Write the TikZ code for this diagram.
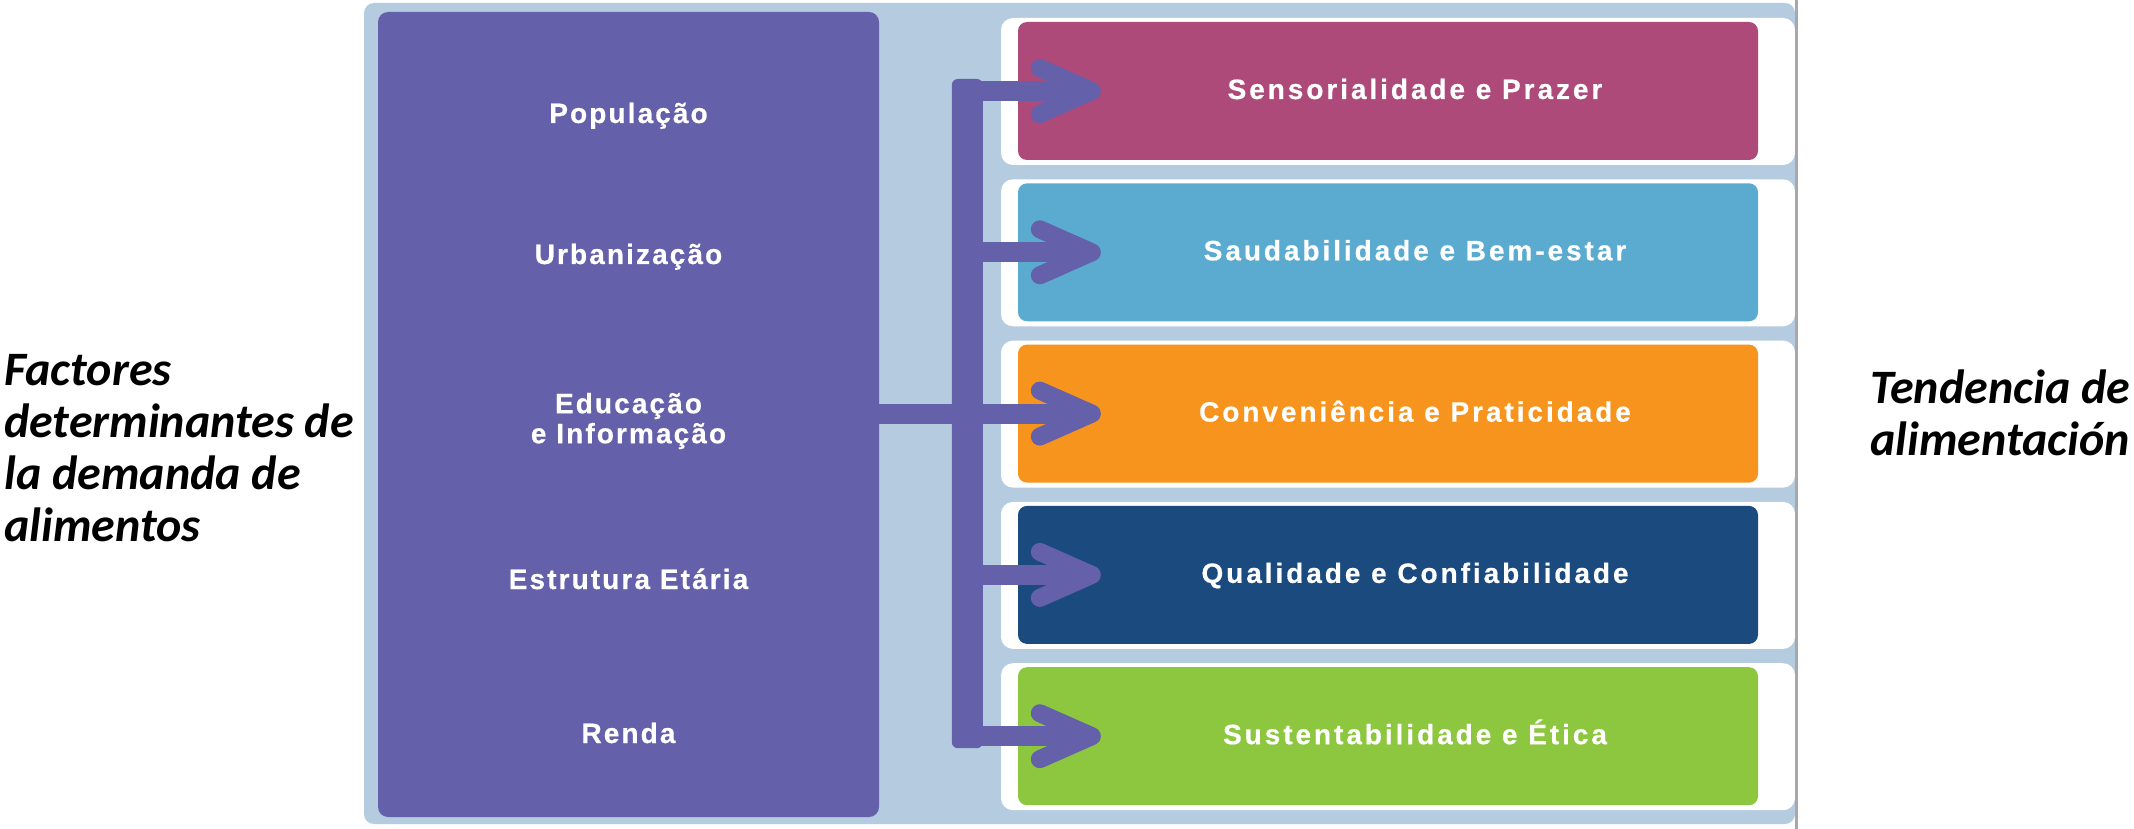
\documentclass[tikz,border=0pt]{standalone}
\usepackage{fontspec}
\setmainfont{Liberation Sans}
\newfontfamily\boxfont{Liberation Sans}[LetterSpace=7.5, FakeBold=0.5]
\newfontfamily\trendfont{Liberation Sans}[LetterSpace=10.5, FakeBold=0.5]
\newfontfamily\calib{Carlito}
\usetikzlibrary{calc}
\definecolor{panelblue}{HTML}{B5CCE0}
\definecolor{fpurple}{HTML}{6560AA}
\definecolor{tmagenta}{HTML}{AE4A7A}
\definecolor{tcyan}{HTML}{5BABD1}
\definecolor{torange}{HTML}{F7941E}
\definecolor{tnavy}{HTML}{1A4A7E}
\definecolor{tgreen}{HTML}{8DC63F}
\definecolor{edgegray}{HTML}{A8A8A8}
\tikzset{
  panel/.style={fill=panelblue, rounded corners=10pt},
  whitebox/.style={fill=white, rounded corners=12pt},
  factorbox/.style={fill=fpurple, rounded corners=10pt, minimum width=501pt, minimum height=805pt, inner sep=0pt},
  ftext/.style={text=white, font=\boxfont\bfseries\fontsize{28}{30}\selectfont, align=center, inner sep=0pt},
  trend/.style={rounded corners=9pt, minimum width=740pt, minimum height=138pt, inner sep=0pt, text=white,
    font=\trendfont\bfseries\fontsize{28}{30}\selectfont, text height=16pt, text depth=0pt},
  shaft/.style={draw=fpurple, line width=20pt},
  head/.style={draw=fpurple, line width=18pt, line cap=round, line join=round},
  side/.style={font=\calib\bfseries\itshape\fontsize{48}{52}\selectfont, align=left, inner sep=0pt, text=black}
}
\begin{document}
\begin{tikzpicture}[x=1pt,y=-1pt]
\useasboundingbox (0,0) rectangle (2134,829);
\fill[white] (0,0) rectangle (2134,829);
% panel
\fill[panel] (364,3) rectangle (1795,824);
% factor box
\node[factorbox] (factors) at (628.5,414.5) {};
\node[ftext, text height=20pt, text depth=0pt] (f1) at (628.5,113) {População};
\node[ftext, text height=20pt, text depth=0pt] (f2) at (628.5,254) {Urbanização};
\node[ftext] (f3) at (628.5,421) {Educação\\e Informação};
\node[ftext, text height=20pt, text depth=0pt] (f4) at (628.5,579) {Estrutura Etária};
\node[ftext, text height=20pt, text depth=0pt] (f5) at (628.5,733) {Renda};
% trend boxes
\foreach \k/\col/\txt in {0/tmagenta/Sensorialidade e Prazer, 1/tcyan/Saudabilidade e Bem-estar, 2/torange/Conveniência e Praticidade, 3/tnavy/Qualidade e Confiabilidade, 4/tgreen/Sustentabilidade e Ética}{
  \fill[whitebox] (1001,{18+161.3*\k}) rectangle (1795,{165+161.3*\k});
  \node[trend, fill=\col] (t\k) at (1388,{91+161.3*\k}) {\hspace*{54pt}\txt};
}
% bus
\fill[fpurple, rounded corners=6pt] ($(t0.west)+(-66,-12)$) rectangle ($(t4.west)+(-35,12)$);
% connectors
\foreach \k in {0,1,3,4}{
  \draw[shaft] ($(t\k.west)+(-58,0)$) -- ($(t\k.west)+(62,0)$);
}
\draw[shaft] (factors.east |- t2.west) -- ($(t2.west)+(62,0)$);
\foreach \k in {0,...,4}{
  \draw[head] ($(t\k.west)+(22,-23)$) -- ($(t\k.west)+(74,0)$) -- ($(t\k.west)+(22,23)$);
}
% right edge line
\fill[edgegray] (1794.5,0) rectangle (1798,829);
% side texts
\node[side, anchor=west] (lefttitle) at (4,448) {Factores\\determinantes de\\la demanda de\\alimentos};
\node[side, anchor=west] (righttitle) at (1870,413) {Tendencia de\\alimentación};
\end{tikzpicture}
\end{document}
